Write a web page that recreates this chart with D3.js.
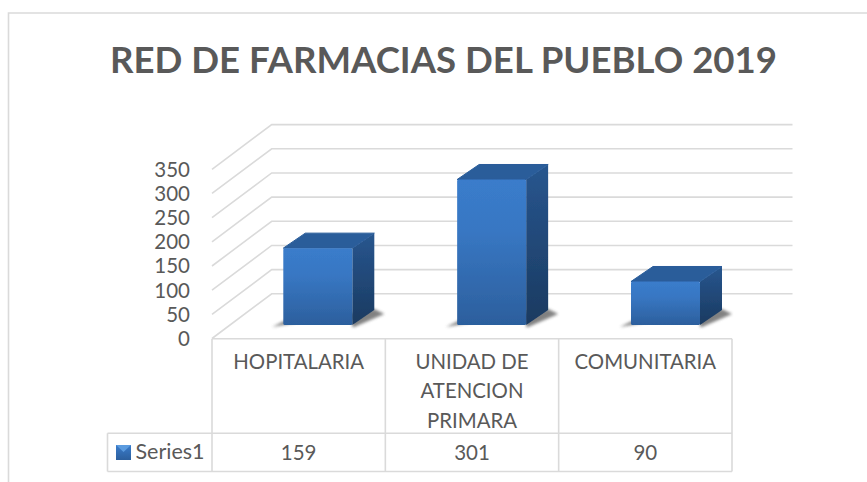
<!DOCTYPE html>
<html><head><meta charset="utf-8">
<script src="https://cdn.jsdelivr.net/npm/d3@7"></script>
<style>html,body{margin:0;padding:0;background:#fff}svg{display:block}</style>
</head><body>
<svg id="c" width="867" height="482"></svg>
<script>
const titleText = "RED DE FARMACIAS DEL PUEBLO 2019";
const categories = ["HOPITALARIA", "UNIDAD DE ATENCION PRIMARA", "COMUNITARIA"];
const categoryLines = [["HOPITALARIA"], ["UNIDAD DE", "ATENCION", "PRIMARA"], ["COMUNITARIA"]];
const seriesName = "Series1";
const seriesValues = [159, 301, 90];
const tickValues = [0, 50, 100, 150, 200, 250, 300, 350];

const svg = d3.select("#c");
const font = "Lato,'Open Sans',sans-serif";
const gridC = "#dadada", textC = "#595959";

const defs = svg.append("defs");
function grad(id, stops) {
  const g = defs.append("linearGradient").attr("id", id).attr("x1",0).attr("y1",0).attr("x2",0).attr("y2",1);
  stops.forEach(([o,c]) => g.append("stop").attr("offset",o).attr("stop-color",c));
}
grad("front", [[0,"#3a7ccb"],[0.35,"#3877c3"],[1,"#2c5f9d"]]);
grad("side", [[0,"#28568f"],[1,"#1a3a60"]]);
grad("legendG", [[0,"#3a7ccb"],[1,"#2c5f9d"]]);
const fs = defs.append("filter").attr("id","blur").attr("x","-20%").attr("y","-50%").attr("width","140%").attr("height","200%");
fs.append("feGaussianBlur").attr("stdDeviation",1.5);
const fb = defs.append("filter").attr("id","soft").attr("x","-5%").attr("y","-5%").attr("width","110%").attr("height","110%");
fb.append("feGaussianBlur").attr("stdDeviation",0.45);

// frame: left and top edges only, open on the right
svg.append("path").attr("d","M8.5,482V13H867").attr("fill","none").attr("stroke",gridC).attr("stroke-width",1.6);

// title
svg.append("text").text(titleText).attr("x",443.5).attr("y",73).attr("text-anchor","middle")
  .attr("font-family",font).attr("font-weight",700).attr("font-size",35.5).attr("fill",textC)
  .attr("textLength",667).attr("lengthAdjust","spacingAndGlyphs");

// scales
const yLen = d3.scaleLinear().domain([0,350]).range([0,169.2]);
const xBand = d3.scaleBand().domain(categories).range([212,732]);
const xBar = d3.scalePoint().domain(categories).range([283.3,631]);
const depth = {dx:59.7, dy:44.7};
const barDepth = {dx:22, dy:15};
const yFront = v => 338.5 - yLen(v);

// grid
const gridG = svg.append("g").attr("fill","none").attr("stroke",gridC).attr("stroke-width",1.6);
tickValues.forEach(v => {
  const y = yFront(v);
  gridG.append("path").attr("d",`M212,${y}L${212+depth.dx},${y-depth.dy}H792.5`);
});

// axis labels
svg.append("g").selectAll("text").data(tickValues).join("text")
  .text(d=>d).attr("x",190).attr("y",d=>yFront(d)+7.5).attr("text-anchor","end")
  .attr("font-family",font).attr("font-size",20.5).attr("fill",textC);

// bars
const barW = 69, base = 325;
const barG = svg.append("g");
categories.forEach((c,i) => {
  const v = seriesValues[i];
  const x = xBar(c);
  const h = yLen(v), t = base-h, x1 = x+barW;
  const {dx,dy} = barDepth;
  barG.append("path").attr("d",`M${x-11},${base+2}L${x+3},${base-5}H${x1}V${base+2}H${x1+2}L${x1+dx+10},${base-dy+4}L${x1+dx},${base-dy-1}Z`)
    .attr("fill","#4d4d4d").attr("opacity",0.7).attr("filter","url(#blur)");
  const g = barG.append("g").attr("filter","url(#soft)");
  g.append("path").attr("d",`M${x1},${t}L${x1+dx},${t-dy}V${base-dy}L${x1},${base}Z`).attr("fill","url(#side)");
  g.append("path").attr("d",`M${x},${t}L${x+dx},${t-dy}H${x1+dx}L${x1},${t}Z`).attr("fill","#2a5d9a").attr("stroke","#2a5d9a").attr("stroke-width",1).attr("stroke-linejoin","round");
  g.append("rect").attr("x",x).attr("y",t).attr("width",barW).attr("height",h).attr("rx",1.5).attr("fill","url(#front)");
});

// data table
const tY0 = 338.7, tY1 = 433.3, tY2 = 471.5, legX = 107.5;
const tb = svg.append("g").attr("fill","none").attr("stroke",gridC).attr("stroke-width",1.6);
categories.forEach(c => tb.append("path").attr("d",`M${xBand(c)},${tY0}V${tY2}`));
tb.append("path").attr("d",`M732,${tY0}V${tY2}`);
tb.append("path").attr("d",`M212,${tY0}H732`);
tb.append("path").attr("d",`M${legX},${tY1}H732M${legX},${tY2}H732M${legX},${tY1}V${tY2}`);

categoryLines.forEach((lines,i) => {
  const cx = xBand(categories[i]) + xBand.bandwidth()/2;
  lines.forEach((s,j) => svg.append("text").text(s).attr("x",cx).attr("y",368.5+j*29.6)
    .attr("text-anchor","middle").attr("font-family",font).attr("font-size",20.4).attr("fill",textC));
  svg.append("text").text(seriesValues[i]).attr("x",cx).attr("y",459.5)
    .attr("text-anchor","middle").attr("font-family",font).attr("font-size",20.5).attr("fill",textC);
});
svg.append("rect").attr("x",116).attr("y",445).attr("width",15).attr("height",15).attr("fill","url(#legendG)");
svg.append("path").attr("d","M116,445H131L123.5,452Z").attr("fill","#5b9bdf");
svg.append("text").text(seriesName).attr("x",135.5).attr("y",458.5)
  .attr("font-family",font).attr("font-size",21.5).attr("fill",textC);
</script>
</body></html>
